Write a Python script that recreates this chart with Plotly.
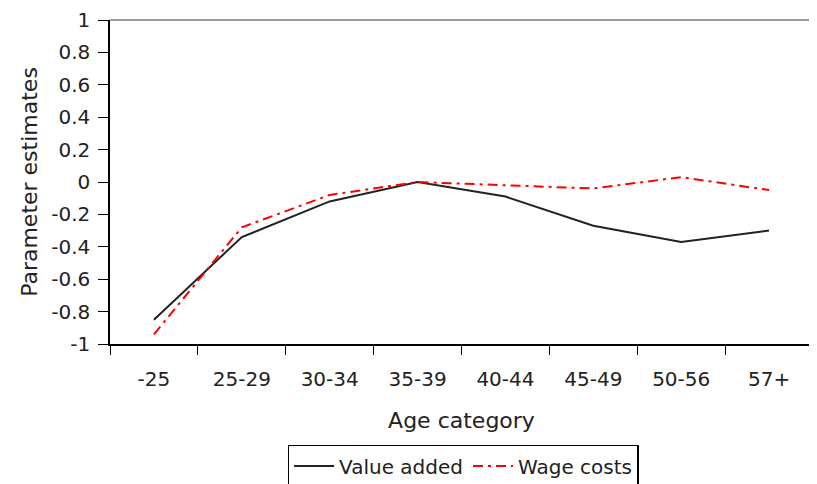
import plotly.graph_objects as go

categories = ["-25", "25-29", "30-34", "35-39", "40-44", "45-49", "50-56", "57+"]
value_added = [-0.85, -0.34, -0.12, 0.0, -0.09, -0.27, -0.37, -0.30]
wage_costs = [-0.94, -0.28, -0.08, 0.0, -0.02, -0.04, 0.03, -0.05]
y_ticks = [-1, -0.8, -0.6, -0.4, -0.2, 0, 0.2, 0.4, 0.6, 0.8, 1]

FONT = "DejaVu Sans, Liberation Sans, Arial, sans-serif"

fig = go.Figure()
fig.add_trace(go.Scatter(x=categories, y=value_added, mode="lines", name="Value added",
                         line=dict(color="#222222", width=2)))
fig.add_trace(go.Scatter(x=categories, y=wage_costs, mode="lines", name="Wage costs",
                         line=dict(color="#ff0000", width=2, dash="10px,5px,3px,5px")))

fig.update_layout(
    width=809, height=476,
    margin=dict(l=102, r=4, t=12, b=140),
    paper_bgcolor="white", plot_bgcolor="white",
    font=dict(family=FONT, size=20, color="#222222"),
    showlegend=True,
    legend=dict(orientation="h", xref="container", yref="container",
                x=0.5625, xanchor="center", y=0.082, yanchor="top",
                bordercolor="black", borderwidth=1.5, font=dict(size=20),
                itemwidth=40, tracegroupgap=0),
    xaxis=dict(type="category", range=[-0.5, 7.5], tickson="boundaries", ticks="outside",
               ticklen=9, tickcolor="black", showline=True, linecolor="black", linewidth=1.5,
               showgrid=False, zeroline=False, automargin=False,
               title=dict(text="Age category", standoff=23, font=dict(size=22)),
               ticklabelstandoff=16),
    yaxis=dict(range=[-1, 1], tickvals=y_ticks, ticktext=[f"{v:g}" for v in y_ticks],
               ticks="outside", ticklen=10, tickcolor="black", showline=True,
               linecolor="black", linewidth=1.5, showgrid=False, zeroline=False,
               ticklabelstandoff=4, automargin=False, ticklabeloverflow="allow",
               title=dict(text="Parameter estimates", standoff=8, font=dict(size=22))),
    shapes=[
        dict(type="line", xref="paper", yref="paper", x0=0, x1=1, y0=1, y1=1,
             line=dict(color="#9a9a9a", width=2)),
        dict(type="line", xref="paper", yref="paper", x0=1, x1=1, y0=0, y1=1,
             line=dict(color="#9a9a9a", width=2)),
    ],
)

fig.write_html("out.html")
